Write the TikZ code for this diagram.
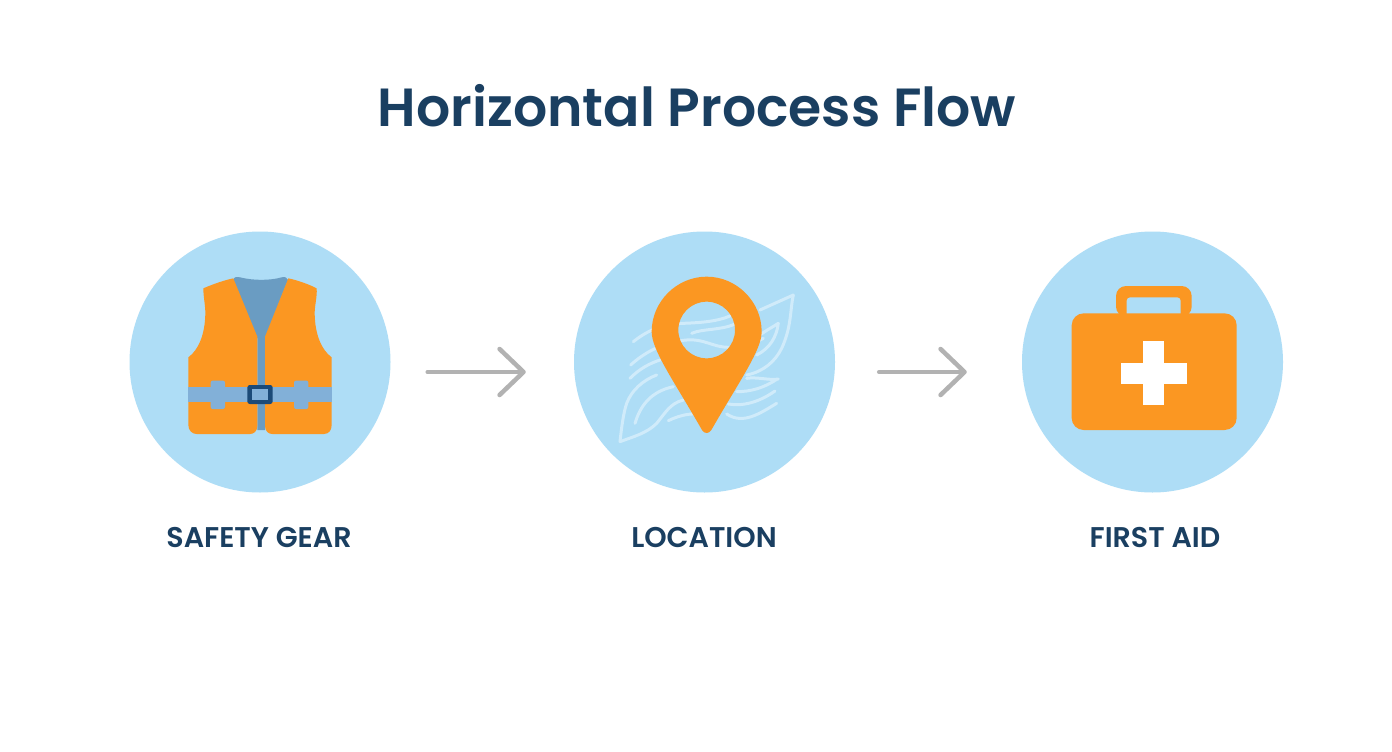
\documentclass[tikz,border=0pt]{standalone}
\usepackage{fontspec}
\setmainfont{Poppins}[BoldFont=* SemiBold]
\usetikzlibrary{arrows.meta,calc}
\definecolor{sky}{HTML}{AEDDF6}
\definecolor{vestor}{HTML}{FB9722}
\definecolor{navy}{HTML}{1A3F61}
\definecolor{steel}{HTML}{6A9CC2}
\definecolor{beltc}{HTML}{82B0D8}
\definecolor{buck}{HTML}{1B4A78}
\definecolor{wavec}{HTML}{D0EBFA}
\definecolor{arrowc}{HTML}{B2B2B2}
\tikzset{
  disc/.style={circle,fill=sky,minimum size=261pt,inner sep=0pt},
  steplabel/.style={font=\fontsize{28.5}{33}\selectfont\bfseries,text=navy,inner sep=0pt},
  titlelabel/.style={font=\fontsize{53.7}{62}\selectfont\bfseries,text=navy,inner sep=0pt},
  flow/.style={draw=arrowc,line width=4.5pt,line cap=round,line join=round,
    -{Straight Barb[length=24pt,width=46pt,line cap=round,line join=round]}},
  wave/.style={draw=wavec,line width=3pt,line cap=round,line join=round},
}
\begin{document}
\begin{tikzpicture}[x=1pt,y=-1pt]
\useasboundingbox (0,0) rectangle (1392,752);
\fill[white] (0,0) rectangle (1392,752);
\node[titlelabel] (title) at (697,106) {Horizontal Process Flow};
\node[disc] (c1) at (260,362) {};
\node[disc] (c2) at (704.5,362) {};
\node[disc] (c3) at (1152.5,362) {};
\node[steplabel] (l1) at (259,538) {SAFETY GEAR};
\node[steplabel] (l2) at (704,538) {LOCATION};
\node[steplabel] (l3) at (1155,538) {FIRST AID};
% connectors
\coordinate (a1s) at ($(c1.east)+(37,10)$);
\coordinate (a1e) at ($(c2.west)+(-48,10)$);
\coordinate (a2s) at ($(c2.east)+(44,10)$);
\coordinate (a2e) at ($(c3.west)+(-55,10)$);
\draw[flow] (a1s) -- (a1e);
\draw[flow] (a2s) -- (a2e);
% vest
\begin{scope}[shift={(170,260)},scale=1/3]
\fill[steel] (190,60) .. controls (192,50) and (200,50) .. (210,52)
  .. controls (250,62) and (300,62) .. (335,52) .. controls (345,50) and (352,52) .. (354,60)
  -- (285,235) -- (285,510) -- (262,510) -- (262,235) -- cycle;
\fill[vestor] (190,55) -- (262,230) -- (262,498) .. controls (262,515) and (250,522) .. (240,522)
  -- (80,522) .. controls (65,522) and (55,510) .. (55,495) -- (55,292)
  .. controls (85,270) and (105,225) .. (106,160) .. controls (106,135) and (100,110) .. (100,85)
  .. controls (130,72) and (165,60) .. (190,55) -- cycle;
\fill[vestor] (355,55) -- (285,230) -- (285,498) .. controls (285,515) and (297,522) .. (307,522)
  -- (462,522) .. controls (477,522) and (485,510) .. (485,495) -- (485,292)
  .. controls (455,270) and (435,225) .. (434,160) .. controls (434,135) and (442,110) .. (440,85)
  .. controls (415,72) and (380,60) .. (355,55) -- cycle;
\fill[beltc] (55,380) rectangle (485,425);
\fill[beltc,rounded corners=2pt] (122,362) rectangle (165,447);
\fill[beltc,rounded corners=2pt] (372,362) rectangle (415,447);
\fill[buck,rounded corners=2.5pt] (232,375) rectangle (308,432);
\fill[beltc] (246,388) rectangle (295,420);
\end{scope}
% map and pin
\begin{scope}[shift={(600,260)},scale=1/3]
\draw[wave] (100,245) .. controls (150,205) and (200,190) .. (250,190) .. controls (300,188) and (350,185) .. (390,168);
\draw[wave] (275,220) .. controls (310,205) and (360,212) .. (405,192);
\draw[wave] (92,315) .. controls (130,280) and (190,245) .. (260,240) .. controls (310,235) and (340,262) .. (385,262) .. controls (430,262) and (460,250) .. (490,235);
\draw[wave] (90,355) .. controls (120,325) and (150,310) .. (180,300);
\draw[wave] (480,150) -- (580,105) .. controls (570,150) and (575,200) .. (545,265) .. controls (525,305) and (490,335) .. (440,345);
\draw[wave] (480,225) .. controls (500,210) and (520,200) .. (535,190) .. controls (530,230) and (510,265) .. (470,285);
\draw[wave] (440,355) .. controls (470,350) and (510,362) .. (535,357);
\draw[wave] (410,395) .. controls (450,395) and (490,385) .. (530,358);
\draw[wave] (385,432) .. controls (430,440) and (480,425) .. (525,393);
\draw[wave] (380,462) .. controls (430,495) and (480,460) .. (530,430);
\draw[wave] (205,482) .. controls (240,465) and (290,450) .. (345,475);
\draw[wave] (60,545) .. controls (65,500) and (70,460) .. (80,430) .. controls (95,390) and (130,360) .. (170,345);
\draw[wave] (60,545) .. controls (100,530) and (140,520) .. (170,490) .. controls (195,460) and (210,430) .. (250,420);
\draw[wave] (105,490) .. controls (120,440) and (150,395) .. (220,380);
\fill[vestor,even odd rule]
  (320,50) .. controls (410,50) and (485,125) .. (485,215)
  .. controls (485,270) and (420,360) .. (334,510)
  .. controls (327,522) and (313,522) .. (306,510)
  .. controls (220,360) and (155,270) .. (155,215)
  .. controls (155,125) and (230,50) .. (320,50) -- cycle
  (320,210) circle [radius=85];
\end{scope}
% first aid case
\begin{scope}[shift={(1060,275)},scale=1/3]
\fill[vestor,rounded corners=10pt] (168,125) -- (168,33) -- (395,33) -- (395,125) -- cycle;
\fill[sky,rounded corners=3.5pt] (200,130) -- (200,67) -- (362,67) -- (362,130) -- cycle;
\fill[vestor,rounded corners=12pt] (35,115) rectangle (530,465);
\fill[white] (183,265) rectangle (380,327);
\fill[white] (250,197) rectangle (312,390);
\end{scope}
\end{tikzpicture}
\end{document}
